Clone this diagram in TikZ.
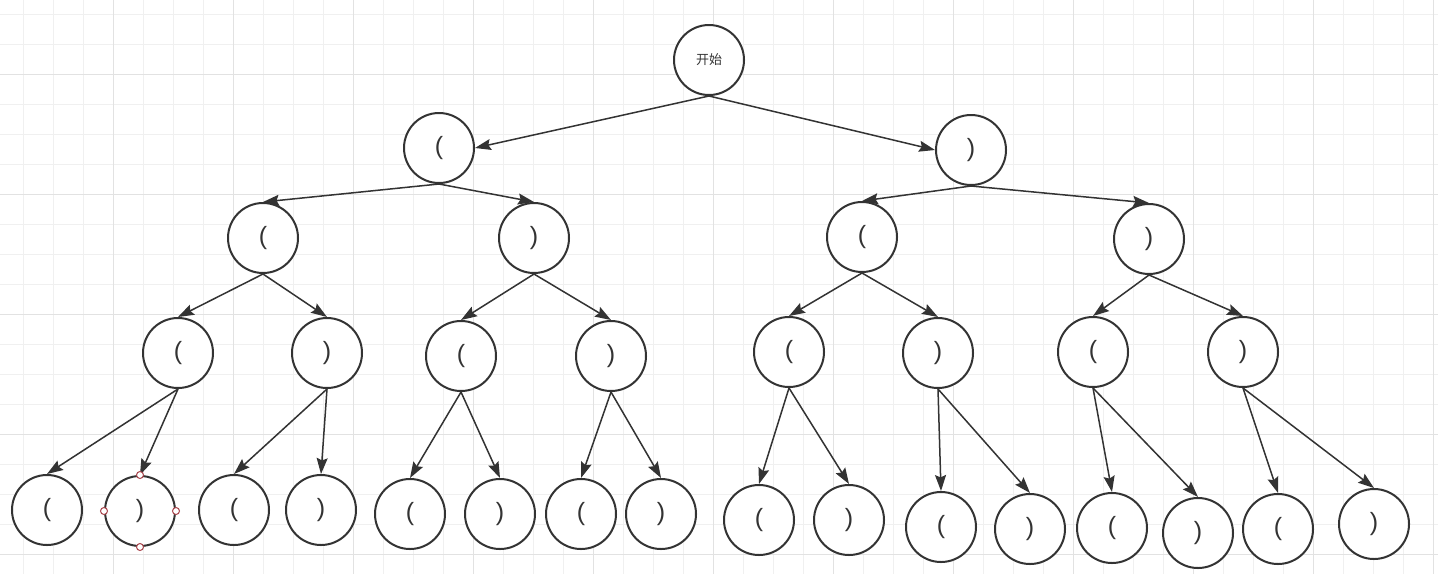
\documentclass[tikz,border=0pt]{standalone}
\usepackage{fontspec}
\setmainfont{Liberation Sans}
\newfontfamily\cjk{Noto Sans CJK SC}
\usepackage{xcolor}
\usetikzlibrary{arrows.meta}
\definecolor{ink}{HTML}{333333}
\definecolor{gridmin}{HTML}{F0F0F0}
\definecolor{gridmaj}{HTML}{E2E2E2}
\definecolor{handlered}{HTML}{A8434A}

\begin{document}
\begin{tikzpicture}[x=0.5pt,y=-0.5pt,>={Stealth[length=8pt,width=5.5pt,inset=1.2pt]},
    bubble/.style={circle,draw=ink,line width=1pt,minimum size=35pt,inner sep=0pt,
      fill=white,text=ink,font=\fontsize{12.5}{14}\selectfont},
    link/.style={->,draw=ink,fill=ink,line width=0.75pt},
    handle/.style={draw=handlered,fill=white,line width=0.5pt}]
      \useasboundingbox[fill=white] (0,0) rectangle (1438,574);
      % grid
      \foreach \gx in {23,53,...,1433} \draw[gridmin,line width=0.5pt] (\gx,0) -- (\gx,574);
      \foreach \gy in {14,44,...,574} \draw[gridmin,line width=0.5pt] (0,\gy) -- (1438,\gy);
      \foreach \gx in {113,233,...,1433} \draw[gridmaj,line width=0.5pt] (\gx,0) -- (\gx,574);
      \foreach \gy in {74,194,...,554} \draw[gridmaj,line width=0.5pt] (0,\gy) -- (1438,\gy);

      \node[bubble,font=\cjk\fontsize{6.5}{8}\selectfont] (s) at (709,60) {开始};

      \node[bubble] (l) at (439,148) {(};
      \node[bubble] (r) at (971,150) {)};

      \node[bubble] (ll) at (263,238) {(};
      \node[bubble] (lr) at (534,238) {)};
      \node[bubble] (rl) at (862,237) {(};
      \node[bubble] (rr) at (1149,239) {)};

      \node[bubble] (lll) at (178,353) {(};
      \node[bubble] (llr) at (327,353) {)};
      \node[bubble] (lrl) at (461,356) {(};
      \node[bubble] (lrr) at (611,356) {)};
      \node[bubble] (rll) at (789,352) {(};
      \node[bubble] (rlr) at (938,353) {)};
      \node[bubble] (rrl) at (1093,352) {(};
      \node[bubble] (rrr) at (1243,352) {)};

      \node[bubble] (llll) at (47,510) {(};
      \node[bubble] (lllr) at (140,511) {)};
      \node[bubble] (llrl) at (234,510) {(};
      \node[bubble] (llrr) at (321,510) {)};
      \node[bubble] (lrll) at (410,514) {(};
      \node[bubble] (lrlr) at (500,514) {)};
      \node[bubble] (lrrl) at (581,514) {(};
      \node[bubble] (lrrr) at (661,514) {)};
      \node[bubble] (rlll) at (759,520) {(};
      \node[bubble] (rllr) at (849,520) {)};
      \node[bubble] (rlrl) at (941,527) {(};
      \node[bubble] (rlrr) at (1030,529) {)};
      \node[bubble] (rrll) at (1112,528) {(};
      \node[bubble] (rrlr) at (1198,533) {)};
      \node[bubble] (rrrl) at (1278,529) {(};
      \node[bubble] (rrrr) at (1374,524) {)};

      \draw[link] (s.south) -- (l.east);
      \draw[link] (s.south) -- (r.west);

      \draw[link] (l.south) -- (ll.north);
      \draw[link] (l.south) -- (lr.north);
      \draw[link] (r.south) -- (rl.north);
      \draw[link] (r.south) -- (rr.north);

      \draw[link] (ll.south) -- (lll.north);
      \draw[link] (ll.south) -- (llr.north);
      \draw[link] (lr.south) -- (lrl.north);
      \draw[link] (lr.south) -- (lrr.north);
      \draw[link] (rl.south) -- (rll.north);
      \draw[link] (rl.south) -- (rlr.north);
      \draw[link] (rr.south) -- (rrl.north);
      \draw[link] (rr.south) -- (rrr.north);

      \draw[link] (lll.south) -- (llll.north);
      \draw[link] (lll.south) -- (lllr.north);
      \draw[link] (llr.south) -- (llrl.north);
      \draw[link] (llr.south) -- (llrr.north);
      \draw[link] (lrl.south) -- (lrll.north);
      \draw[link] (lrl.south) -- (lrlr.north);
      \draw[link] (lrr.south) -- (lrrl.north);
      \draw[link] (lrr.south) -- (lrrr.north);
      \draw[link] (rll.south) -- (rlll.north);
      \draw[link] (rll.south) -- (rllr.north);
      \draw[link] (rlr.south) -- (rlrl.north);
      \draw[link] (rlr.south) -- (rlrr.north);
      \draw[link] (rrl.south) -- (rrll.north);
      \draw[link] (rrl.south) -- (rrlr.north);
      \draw[link] (rrr.south) -- (rrrl.north);
      \draw[link] (rrr.south) -- (rrrr.north);

      % selected node
      \foreach \a in {north,south,east,west} \draw[handle] (lllr.\a) circle (1.75pt);
    \end{tikzpicture}
\end{document}
